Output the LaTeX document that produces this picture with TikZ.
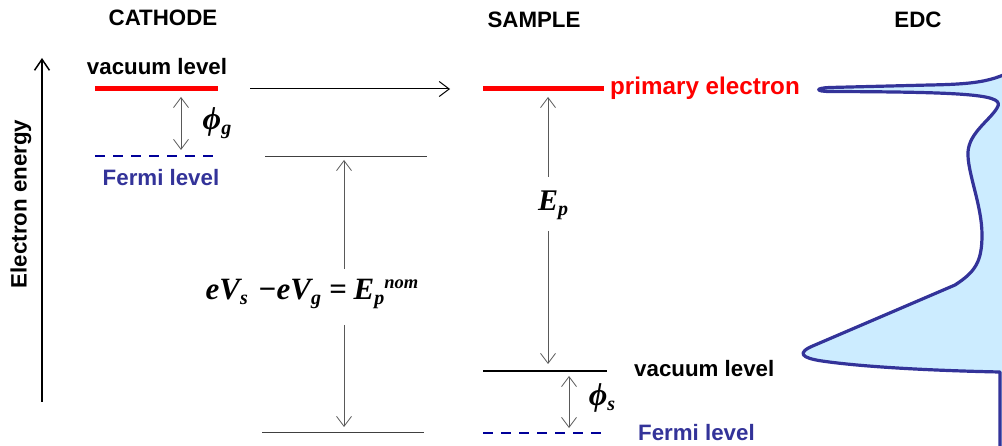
\documentclass[tikz,border=0pt]{standalone}
\usepackage{fontspec}
\setmainfont{Liberation Sans}
\newfontfamily\serifbi{Liberation Serif}[BoldItalicFont={* Bold Italic}]
\usetikzlibrary{arrows.meta}
\definecolor{myred}{HTML}{FF0000}
\definecolor{fermiline}{HTML}{000099}
\definecolor{fermitext}{HTML}{333399}
\definecolor{edcline}{HTML}{333399}
\definecolor{edcfill}{HTML}{CCECFF}
\newcommand{\lbl}{\fontsize{22.3}{26}\selectfont\bfseries}
\newcommand{\mth}{\serifbi\bfseries\itshape}
\newcommand{\sbs}[1]{\raisebox{-5pt}{\fontsize{20}{20}\selectfont #1}}
\tikzset{
  lab/.style={font=\lbl, inner sep=0pt},
  vac/.style={line width=5pt, myred},
  fermi/.style={line width=2pt, fermiline, dash pattern=on 10pt off 8pt},
  level/.style={line width=1pt, black!75},
  thinarr/.style={line width=0.7pt, black!65, arrows={Straight Barb[length=10pt,width=15pt,line width=0.8pt]-Straight Barb[length=10pt,width=15pt,line width=0.8pt]}},
  onearr/.style={line width=0.7pt, black!65, -{Straight Barb[length=10pt,width=15pt,line width=0.8pt]}},
  edc/.style={line width=3.2pt, edcline, fill=edcfill, line join=round},
}
\begin{document}
\begin{tikzpicture}[x=1pt,y=-1pt]
\useasboundingbox (0,0) rectangle (1002,446);

% headings
\node[lab] (cath) at (163,18) {CATHODE};
\node[lab] (samp) at (534,20) {SAMPLE};
\node[lab] (edct) at (918,20) {EDC};

% energy axis
\coordinate (axb) at (42,402);
\coordinate (axt) at (42,58);
\draw[line width=2pt, -{Straight Barb[length=11pt,width=15pt,line width=1.5pt]}] (axb) -- (axt);
\node[lab, rotate=90] (eax) at (21,204) {Electron energy};

% cathode levels
\node[lab] (cvac) at (157,67) {vacuum level};
\coordinate (cv1) at (95,89);
\coordinate (cv2) at (218,89);
\draw[vac] (cv1) -- (cv2);
\coordinate (cf1) at (95,156);
\coordinate (cf2) at (218,156);
\draw[fermi] (cf1) -- (cf2);
\node[lab, text=fermitext] (cferm) at (161,178) {Fermi level};
\coordinate (pg1) at (181,97);
\coordinate (pg2) at (181,150);
\draw[thinarr] (pg1) -- (pg2);
\node[inner sep=0pt, font=\mth\fontsize{32}{32}\selectfont] (phig) at (217,123) {ϕ\sbs{g}};

% injection arrow
\coordinate (inj1) at (250,89);
\coordinate (inj2) at (450,89);
\draw[line width=1pt, -{Straight Barb[length=10pt,width=15pt,line width=1pt]}] (inj1) -- (inj2);

% middle levels
\coordinate (m1) at (265,157);
\coordinate (m2) at (427,157);
\draw[level] (m1) -- (m2);
\coordinate (b1) at (262,432);
\coordinate (b2) at (424,432);
\draw[level] (b1) -- (b2);
\node[inner sep=0pt, font=\mth\fontsize{31}{32}\selectfont] (eq) at (312,294)
  {eV\sbs{s}\hspace{10pt}−eV\sbs{g}\hspace{8pt}=\hspace{7pt}E\sbs{p}\raisebox{11pt}{\fontsize{18.5}{18}\selectfont nom}};
\coordinate (ea1) at (344,269);
\coordinate (ea2) at (344,160);
\coordinate (ea3) at (344,325);
\coordinate (ea4) at (344,427);
\draw[onearr] (ea1) -- (ea2);
\draw[onearr] (ea3) -- (ea4);

% sample levels
\coordinate (sv1) at (483,89);
\coordinate (sv2) at (604,89);
\draw[vac] (sv1) -- (sv2);
\node[lab, text=myred, anchor=west, font=\fontsize{24.2}{26}\selectfont\bfseries] (prim) at (610,88) {primary electron};
\coordinate (ep1) at (548,177);
\coordinate (ep2) at (548,97);
\coordinate (ep3) at (548,231);
\coordinate (ep4) at (548,364);
\draw[onearr] (ep1) -- (ep2);
\draw[onearr] (ep3) -- (ep4);
\node[inner sep=0pt, font=\mth\fontsize{30}{30}\selectfont] (ep) at (553,205) {E\sbs{p}};

\coordinate (ss1) at (483,371);
\coordinate (ss2) at (607,371);
\draw[line width=1.5pt] (ss1) -- (ss2);
\node[lab, anchor=west] (svac) at (634,369) {vacuum level};
\coordinate (ps1) at (569,376);
\coordinate (ps2) at (569,428);
\draw[thinarr] (ps1) -- (ps2);
\node[inner sep=0pt, font=\mth\fontsize{32}{32}\selectfont] (phis) at (602,398) {ϕ\sbs{s}};
\coordinate (sf1) at (483,433);
\coordinate (sf2) at (607,433);
\draw[fermi] (sf1) -- (sf2);
\node[lab, anchor=west, text=fermitext] (sferm) at (638,433) {Fermi level};

% EDC curve
\begin{scope}
\clip (0,0) rectangle (1002,446);
\draw[edc] (1030,60) .. controls (1000,80) and (985,84) .. (930,85)
  -- (830,87.5) .. controls (815,88) and (815,91.5) .. (830,91.5)
  .. controls (975,92) and (1006,95) .. (997,108)
  .. controls (990,120) and (969,133) .. (968,152)
  .. controls (967,172) and (982,205) .. (982,235)
  .. controls (982,262) and (975,272) .. (955,285)
  -- (815,345) .. controls (795,353) and (802,358) .. (822,361)
  .. controls (870,368) and (950,371) .. (1000,372)
  -- (1000,470) -- (1030,470) -- cycle;
\end{scope}
\end{tikzpicture}
\end{document}
